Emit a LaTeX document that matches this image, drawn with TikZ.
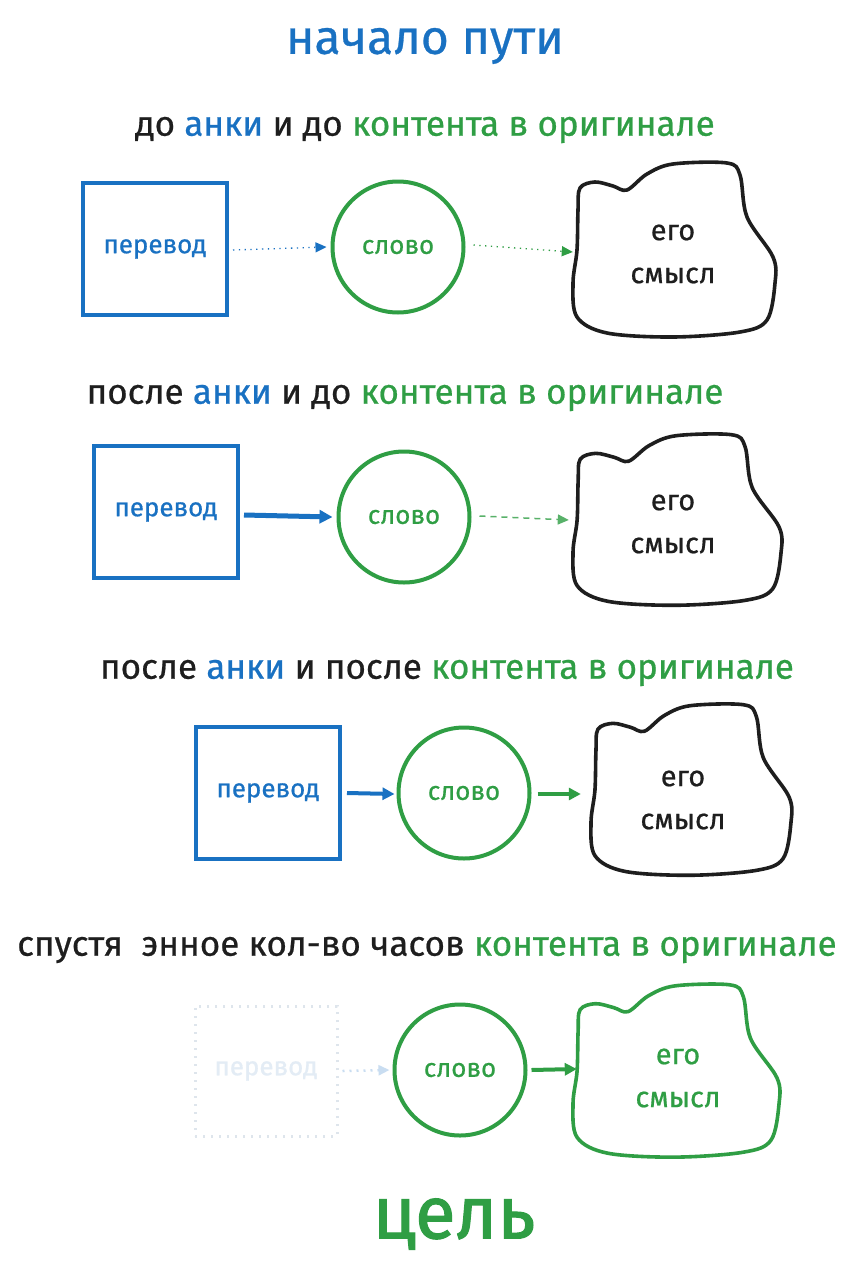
\documentclass[tikz,border=0pt]{standalone}
\usepackage{fontspec}
\setmainfont[FakeBold=0.6]{Fira Sans}
\newfontfamily\goalfont{Fira Sans}[FakeBold=1.5]
\usetikzlibrary{arrows.meta,shapes.geometric}
\definecolor{eblue}{HTML}{1971C2}
\definecolor{egreen}{HTML}{2F9E44}
\definecolor{eblack}{HTML}{1E1E1E}
\definecolor{fadeline}{HTML}{DEE5EC}
\definecolor{fadetext}{HTML}{E3ECF5}
\definecolor{fadearrow}{HTML}{C9DDF1}
\newcommand\blobshape[5]{%
  \begin{scope}[shift={(#1,#2)}, xscale=#3, yscale=#4]
    \draw[line width=3.6pt, line join=round, #5] plot[smooth cycle, tension=0.55] coordinates {
      (-93,-62) (-78,-68) (-60,-64) (-46,-60) (-26,-76) (0,-86) (54,-87) (67,-75) (74,-33)
      (100,7) (102,33) (94,70) (67,82) (0,87) (-66,83) (-96,67) (-100,33) (-96,0) (-95,-40)};
  \end{scope}}
\begin{document}
\begin{tikzpicture}[x=1pt,y=-1pt,
  head/.style={font=\fontsize{35}{40}\selectfont, text=eblack, anchor=center, inner sep=0pt},
  title/.style={font=\fontsize{48}{54}\selectfont, text=eblue, inner sep=0pt},
  goal/.style={font=\goalfont\fontsize{74}{80}\selectfont, text=egreen, inner sep=0pt},
  sq/.style={draw=eblue, line width=4pt, minimum width=144pt, minimum height=132pt, text=eblue, font=\fontsize{26}{30}\selectfont},
  sqfade/.style={draw=fadeline, line width=3pt, dash pattern=on 2pt off 6pt, minimum width=142pt, minimum height=130pt, text=fadetext, font=\fontsize{26}{30}\selectfont},
  wc/.style={circle, draw=egreen, line width=4pt, minimum size=131pt, inner sep=0pt, text=egreen, font=\fontsize{26}{30}\selectfont},
  mean/.style={minimum height=160pt, align=center, inner sep=0pt, font=\fontsize{29}{43}\selectfont},
  tipA/.style={-{Triangle[length=11pt,width=10pt]}},
  dotarrow/.style={tipA, line width=1.3pt, dash pattern=on 1.3pt off 4.5pt},
  dasharrow/.style={tipA, line width=1.5pt, dash pattern=on 6pt off 5pt},
  solidarrow/.style={-{Triangle[length=13pt,width=13pt]}, line width=5pt},
  sarrow/.style={-{Triangle[length=12pt,width=12pt]}, line width=4pt}
]
\useasboundingbox[fill=white] (0,0) rectangle (855,1280);

% title
\node[title] (title) at (425,46) {начало пути};

% ---------- row 1 ----------
\node[head] (h1) at (425,130) {до \textcolor{eblue}{анки} и до \textcolor{egreen}{контента в оригинале}};
\node[sq] (p1) at (155,249) {перевод};
\node[wc] (s1) at (398,247) {слово};
\blobshape{673}{250}{1}{1}{eblack}
\node[mean, minimum width=200pt, text=eblack] (m1) at (673,254) {его\\смысл};
\draw[dotarrow, eblue] ([xshift=4pt,yshift=-1pt]p1.east) -- ([xshift=-4pt]s1.west);
\draw[dotarrow, egreen] ([xshift=8pt,yshift=2pt]s1.east) -- ([yshift=2pt]m1.west);

% ---------- row 2 ----------
\node[head] (h2) at (405,398) {после \textcolor{eblue}{анки} и до \textcolor{egreen}{контента в оригинале}};
\node[sq] (p2) at (166,512) {перевод};
\node[wc] (s2) at (404,517) {слово};
\blobshape{676}{520}{1.03}{0.98}{eblack}
\node[mean, minimum width=208pt, text=eblack] (m2) at (673,524) {его\\смысл};
\draw[solidarrow, eblue] ([xshift=4pt,yshift=-3pt]p2.east) -- ([xshift=-4pt]s2.west);
\draw[dasharrow, egreen!80] ([xshift=8pt,yshift=1pt]s2.east) -- ([yshift=4pt]m2.west);

% ---------- row 3 ----------
\node[head] (h3) at (447,673) {после \textcolor{eblue}{анки} и после \textcolor{egreen}{контента в оригинале}};
\node[sq] (p3) at (268,793) {перевод};
\node[wc] (s3) at (464,793) {слово};
\blobshape{690}{790}{0.99}{0.98}{eblack}
\node[mean, minimum width=200pt, text=eblack] (m3) at (683,800) {его\\смысл};
\draw[sarrow, eblue] ([xshift=5pt]p3.east) -- ([xshift=-2pt,yshift=-1pt]s3.west);
\draw[sarrow, egreen] ([xshift=6pt,yshift=-1pt]s3.east) -- ([xshift=-2pt,yshift=6pt]m3.west);

% ---------- row 4 ----------
\node[head] (h4) at (427,950) {спустя~ энное кол-во часов \textcolor{egreen}{контента в оригинале}};
\node[sqfade] (p4) at (266,1071) {перевод};
\node[wc] (s4) at (460,1070) {слово};
\blobshape{675}{1071}{1.02}{0.99}{egreen}
\node[mean, minimum width=206pt, text=egreen] (m4) at (678,1078) {его\\смысл};
\draw[dotarrow, fadearrow, line width=2.5pt, dash pattern=on 2pt off 5pt] ([xshift=4pt]p4.east) -- ([xshift=-3pt]s4.west);
\draw[sarrow, egreen] ([xshift=4pt]s4.east) -- ([xshift=2pt,yshift=9pt]m4.west);

% goal
\node[goal] (goal) at (454,1224) {цель};
\end{tikzpicture}
\end{document}
